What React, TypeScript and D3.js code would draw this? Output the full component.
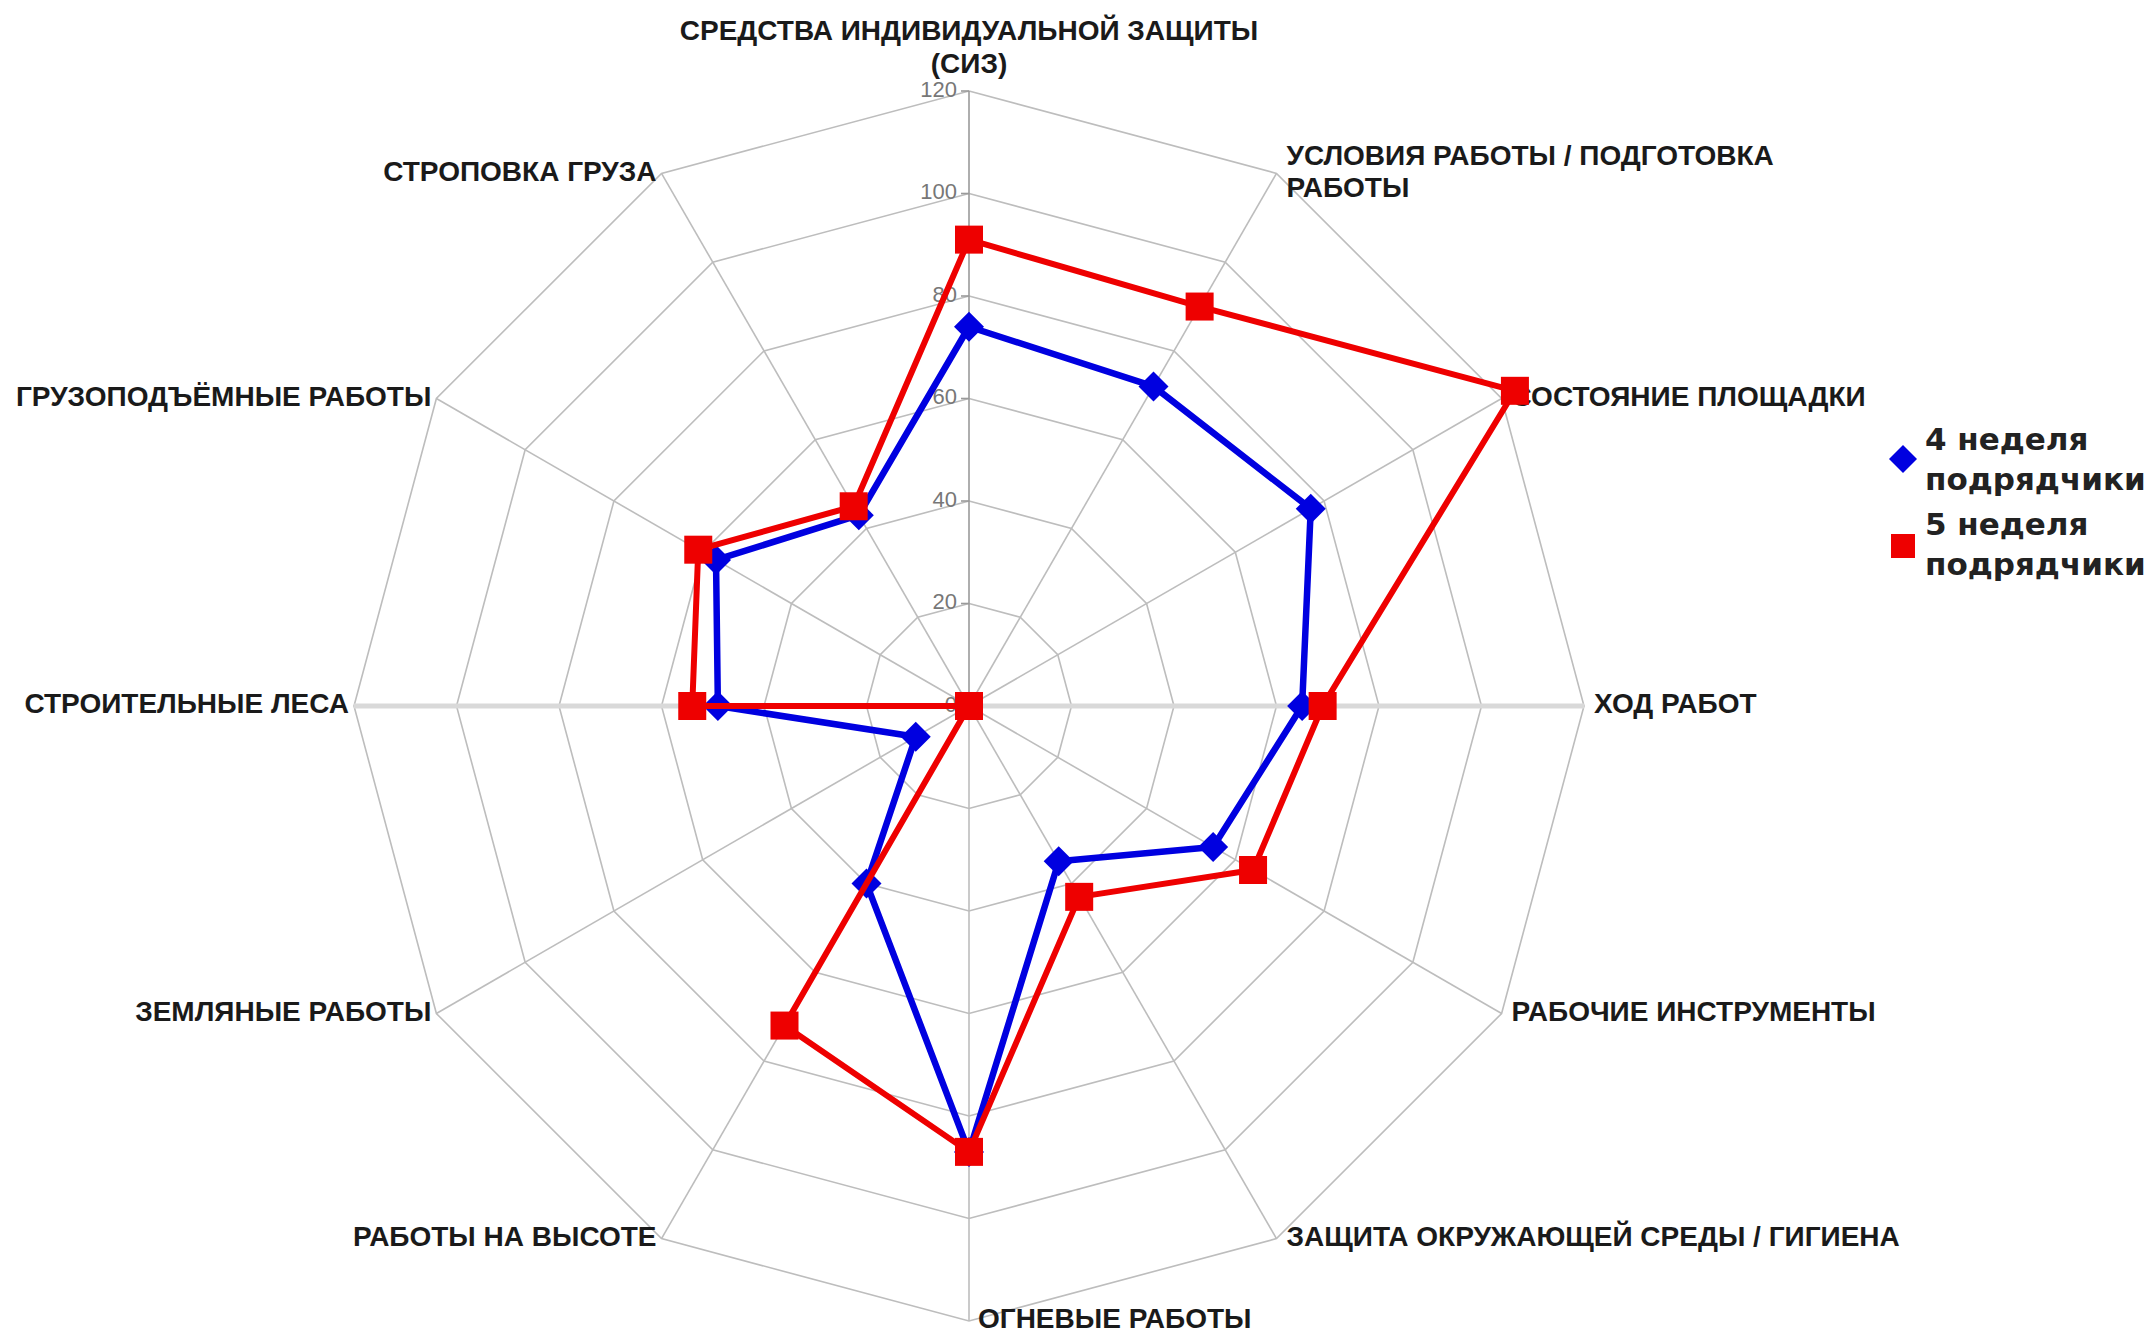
import React, { useEffect, useRef } from "react";
import * as d3 from "d3";

// axis labels, clockwise from the top
const categories = [
  ["СРЕДСТВА ИНДИВИДУАЛЬНОЙ ЗАЩИТЫ", "(СИЗ)"],
  ["УСЛОВИЯ РАБОТЫ / ПОДГОТОВКА", "РАБОТЫ"],
  ["СОСТОЯНИЕ ПЛОЩАДКИ"],
  ["ХОД РАБОТ"],
  ["РАБОЧИЕ ИНСТРУМЕНТЫ"],
  ["ЗАЩИТА ОКРУЖАЮЩЕЙ СРЕДЫ / ГИГИЕНА"],
  ["ОГНЕВЫЕ РАБОТЫ"],
  ["РАБОТЫ НА ВЫСОТЕ"],
  ["ЗЕМЛЯНЫЕ РАБОТЫ"],
  ["СТРОИТЕЛЬНЫЕ ЛЕСА"],
  ["ГРУЗОПОДЪЁМНЫЕ РАБОТЫ"],
  ["СТРОПОВКА ГРУЗА"],
];

const week4 = [74, 72, 77, 65, 55, 35, 87, 40, 12, 49, 57, 43];
const week5 = [91, 90, 123, 69, 64, 43, 87, 72, 0, 54, 61, 45];

const ticks = [0, 20, 40, 60, 80, 100, 120];

const legendLabels = [
  ["4 неделя", "подрядчики"],
  ["5 неделя", "подрядчики"],
];

const width = 2153;
const height = 1336;
const cx = 969;
const cy = 706;
const outer = 615;

export default function App() {
  const ref = useRef<SVGSVGElement>(null);

  useEffect(() => {
    const svg = d3.select(ref.current);
    svg.selectAll("*").remove();

    const n = categories.length;
    const angle = d3
      .scaleLinear()
      .domain([0, n])
      .range([0, 2 * Math.PI]);
    const r = d3.scaleLinear().domain([0, 120]).range([0, outer]);

    const pt = (i: number, v: number): [number, number] => {
      const a = angle(i);
      return [cx + r(v) * Math.sin(a), cy - r(v) * Math.cos(a)];
    };

    const g = svg.append("g");

    // rings
    const ring = d3
      .lineRadial<number>()
      .angle((_, i) => angle(i))
      .radius((d) => r(d))
      .curve(d3.curveLinearClosed);

    ticks.slice(1).forEach((t) => {
      g.append("path")
        .attr("transform", `translate(${cx},${cy})`)
        .attr("d", ring(d3.range(n).map(() => t)))
        .attr("fill", "none")
        .attr("stroke", "#bdbdbd")
        .attr("stroke-width", 1.6);
    });

    // spokes
    d3.range(n).forEach((i) => {
      const [x, y] = pt(i, 120);
      const horiz = i === 3 || i === 9;
      g.append("line")
        .attr("x1", cx)
        .attr("y1", cy)
        .attr("x2", x)
        .attr("y2", y)
        .attr("stroke", horiz ? "#d9d9d9" : i === 0 ? "#9a9a9a" : "#bdbdbd")
        .attr("stroke-width", horiz ? 5 : 1.6);
    });

    // value axis ticks + labels
    ticks.forEach((t) => {
      const y = cy - r(t);
      g.append("line")
        .attr("x1", cx - 8)
        .attr("x2", cx)
        .attr("y1", y)
        .attr("y2", y)
        .attr("stroke", "#9a9a9a")
        .attr("stroke-width", 1.6);
      g.append("text")
        .attr("x", cx - 12)
        .attr("y", y)
        .attr("text-anchor", "end")
        .attr("dominant-baseline", "middle")
        .attr("font-family", "'Liberation Sans', Arial, sans-serif")
        .attr("font-size", 22)
        .attr("fill", "#777")
        .text(t);
    });

    // category labels
    const lh = 32;
    categories.forEach((lines, i) => {
      const [x, y] = pt(i, 120);
      let anchor = "start";
      let tx = x + 10;
      let ty0 = y - ((lines.length - 1) * lh) / 2;
      if (i === 0) {
        anchor = "middle";
        tx = x;
        ty0 = y - 25 - (lines.length - 1) * 33;
      } else if (i > 6) {
        anchor = "end";
        tx = x - 5;
      } else if (i === 6) {
        tx = x + 9;
      }
      const text = g
        .append("text")
        .attr("text-anchor", anchor)
        .attr("font-family", "'Liberation Sans', Arial, sans-serif")
        .attr("font-weight", "bold")
        .attr("font-size", 28)
        .attr("fill", "#1a1a1a");
      lines.forEach((l, k) => {
        text
          .append("tspan")
          .attr("x", tx)
          .attr("y", ty0 + k * (i === 0 ? 33 : lh))
          .attr("dominant-baseline", "middle")
          .text(l);
      });
    });

    // series
    const seriesLine = d3
      .line<number>()
      .x((d, i) => pt(i, d)[0])
      .y((d, i) => pt(i, d)[1])
      .curve(d3.curveLinearClosed);

    const diamond = (x: number, y: number, s: number) =>
      `M${x},${y - s}L${x + s},${y}L${x},${y + s}L${x - s},${y}Z`;

    g.append("path")
      .attr("d", seriesLine(week4))
      .attr("fill", "none")
      .attr("stroke", "#0000e0")
      .attr("stroke-width", 6.5)
      .attr("stroke-linejoin", "round");
    week4.forEach((v, i) => {
      const [x, y] = pt(i, v);
      g.append("path").attr("d", diamond(x, y, 15)).attr("fill", "#0000e0");
    });

    g.append("path")
      .attr("d", seriesLine(week5))
      .attr("fill", "none")
      .attr("stroke", "#ee0000")
      .attr("stroke-width", 6)
      .attr("stroke-linejoin", "round");
    week5.forEach((v, i) => {
      const [x, y] = pt(i, v);
      g.append("rect")
        .attr("x", x - 14)
        .attr("y", y - 14)
        .attr("width", 28)
        .attr("height", 28)
        .attr("fill", "#ee0000");
    });

    // legend
    const lg = svg.append("g").attr("transform", "translate(1903,459)");
    lg.append("path").attr("d", diamond(0, 0, 14)).attr("fill", "#0000e0");
    lg.append("rect")
      .attr("x", -12)
      .attr("y", 75)
      .attr("width", 24)
      .attr("height", 24)
      .attr("fill", "#ee0000");
    legendLabels.forEach((lines, s) => {
      lines.forEach((l, k) => {
        lg.append("text")
          .attr("x", 22)
          .attr("y", -18 + s * 85 + k * 40)
          .attr("dominant-baseline", "middle")
          .attr("font-family", "'DejaVu Sans', sans-serif")
          .attr("font-weight", "bold")
          .attr("font-size", 31)
          .attr("fill", "#222")
          .text(l);
      });
    });
  }, []);

  return (
    <svg
      ref={ref}
      width={width}
      height={height}
      style={{ position: "absolute", left: 0, top: 0, background: "#fff" }}
    />
  );
}
